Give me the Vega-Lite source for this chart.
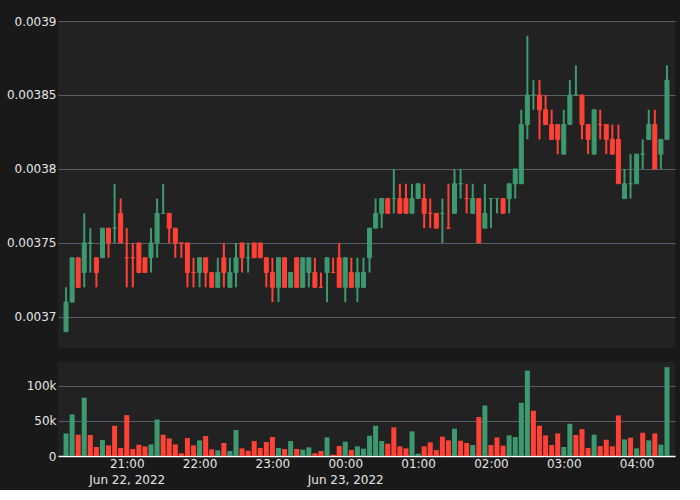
{
  "$schema": "https://vega.github.io/schema/vega-lite/v6.json",
  "background": "#191919",
  "padding": {"left": 6, "top": 15, "right": 5, "bottom": 5},
  "spacing": 14,
  "config": {
    "view": {"stroke": null, "fill": "#222222"},
    "axis": {"labelFont": "DejaVu Sans", "labelFontSize": 12, "labelColor": "#e6e6e6", "gridColor": "#585c63", "domain": false, "ticks": false}
  },
  "datasets": {
    "ohlc": [
      {"t":"2022-06-22T20:10:00","o":0.00369,"h":0.00372,"l":0.00369,"c":0.00371,"v":32200,"d":"up"},
      {"t":"2022-06-22T20:15:00","o":0.00371,"h":0.00374,"l":0.00371,"c":0.00374,"v":59300,"d":"up"},
      {"t":"2022-06-22T20:20:00","o":0.00374,"h":0.00374,"l":0.00372,"c":0.00372,"v":30300,"d":"dn"},
      {"t":"2022-06-22T20:25:00","o":0.00373,"h":0.00377,"l":0.00372,"c":0.00375,"v":83000,"d":"up"},
      {"t":"2022-06-22T20:30:00","o":0.00375,"h":0.00376,"l":0.00373,"c":0.00375,"v":29900,"d":"up"},
      {"t":"2022-06-22T20:35:00","o":0.00374,"h":0.00374,"l":0.00372,"c":0.00373,"v":12800,"d":"dn"},
      {"t":"2022-06-22T20:40:00","o":0.00374,"h":0.00376,"l":0.00374,"c":0.00376,"v":22800,"d":"up"},
      {"t":"2022-06-22T20:45:00","o":0.00376,"h":0.00376,"l":0.00374,"c":0.00375,"v":15200,"d":"dn"},
      {"t":"2022-06-22T20:50:00","o":0.00376,"h":0.00379,"l":0.00375,"c":0.00376,"v":43100,"d":"up"},
      {"t":"2022-06-22T20:55:00","o":0.00377,"h":0.00378,"l":0.00375,"c":0.00375,"v":11400,"d":"dn"},
      {"t":"2022-06-22T21:00:00","o":0.00374,"h":0.00376,"l":0.00372,"c":0.00374,"v":58300,"d":"dn"},
      {"t":"2022-06-22T21:05:00","o":0.00374,"h":0.00375,"l":0.00372,"c":0.00374,"v":10000,"d":"dn"},
      {"t":"2022-06-22T21:10:00","o":0.00375,"h":0.00375,"l":0.00373,"c":0.00373,"v":16100,"d":"dn"},
      {"t":"2022-06-22T21:15:00","o":0.00374,"h":0.00374,"l":0.00373,"c":0.00373,"v":13700,"d":"dn"},
      {"t":"2022-06-22T21:20:00","o":0.00374,"h":0.00376,"l":0.00373,"c":0.00375,"v":16600,"d":"up"},
      {"t":"2022-06-22T21:25:00","o":0.00375,"h":0.00378,"l":0.00374,"c":0.00377,"v":52100,"d":"up"},
      {"t":"2022-06-22T21:30:00","o":0.00377,"h":0.00379,"l":0.00377,"c":0.00377,"v":30300,"d":"up"},
      {"t":"2022-06-22T21:35:00","o":0.00377,"h":0.00377,"l":0.00375,"c":0.00376,"v":25100,"d":"dn"},
      {"t":"2022-06-22T21:40:00","o":0.00376,"h":0.00376,"l":0.00374,"c":0.00375,"v":16600,"d":"dn"},
      {"t":"2022-06-22T21:45:00","o":0.00375,"h":0.00375,"l":0.00374,"c":0.00375,"v":3800,"d":"dn"},
      {"t":"2022-06-22T21:50:00","o":0.00375,"h":0.00375,"l":0.00372,"c":0.00373,"v":25600,"d":"dn"},
      {"t":"2022-06-22T21:55:00","o":0.00373,"h":0.00374,"l":0.00372,"c":0.00373,"v":15200,"d":"dn"},
      {"t":"2022-06-22T22:00:00","o":0.00373,"h":0.00374,"l":0.00372,"c":0.00374,"v":22300,"d":"up"},
      {"t":"2022-06-22T22:05:00","o":0.00374,"h":0.00374,"l":0.00372,"c":0.00373,"v":28400,"d":"dn"},
      {"t":"2022-06-22T22:10:00","o":0.00373,"h":0.00373,"l":0.00372,"c":0.00372,"v":9500,"d":"dn"},
      {"t":"2022-06-22T22:15:00","o":0.00372,"h":0.00374,"l":0.00372,"c":0.00373,"v":8100,"d":"up"},
      {"t":"2022-06-22T22:20:00","o":0.00374,"h":0.00375,"l":0.00372,"c":0.00373,"v":18500,"d":"dn"},
      {"t":"2022-06-22T22:25:00","o":0.00372,"h":0.00374,"l":0.00372,"c":0.00373,"v":7100,"d":"up"},
      {"t":"2022-06-22T22:30:00","o":0.00373,"h":0.00375,"l":0.00372,"c":0.00374,"v":37000,"d":"up"},
      {"t":"2022-06-22T22:35:00","o":0.00375,"h":0.00375,"l":0.00373,"c":0.00374,"v":10900,"d":"dn"},
      {"t":"2022-06-22T22:40:00","o":0.00374,"h":0.00375,"l":0.00373,"c":0.00374,"v":7600,"d":"up"},
      {"t":"2022-06-22T22:45:00","o":0.00375,"h":0.00375,"l":0.00374,"c":0.00374,"v":21300,"d":"dn"},
      {"t":"2022-06-22T22:50:00","o":0.00375,"h":0.00375,"l":0.00374,"c":0.00374,"v":11400,"d":"dn"},
      {"t":"2022-06-22T22:55:00","o":0.00374,"h":0.00374,"l":0.00372,"c":0.00373,"v":19900,"d":"dn"},
      {"t":"2022-06-22T23:00:00","o":0.00373,"h":0.00374,"l":0.00371,"c":0.00372,"v":27000,"d":"dn"},
      {"t":"2022-06-22T23:05:00","o":0.00372,"h":0.00374,"l":0.00371,"c":0.00374,"v":11400,"d":"up"},
      {"t":"2022-06-22T23:10:00","o":0.00374,"h":0.00374,"l":0.00372,"c":0.00372,"v":10000,"d":"dn"},
      {"t":"2022-06-22T23:15:00","o":0.00372,"h":0.00373,"l":0.00372,"c":0.00373,"v":21300,"d":"up"},
      {"t":"2022-06-22T23:20:00","o":0.00374,"h":0.00374,"l":0.00372,"c":0.00372,"v":10000,"d":"dn"},
      {"t":"2022-06-22T23:25:00","o":0.00372,"h":0.00374,"l":0.00372,"c":0.00374,"v":9000,"d":"up"},
      {"t":"2022-06-22T23:30:00","o":0.00373,"h":0.00374,"l":0.00372,"c":0.00374,"v":12300,"d":"up"},
      {"t":"2022-06-22T23:35:00","o":0.00373,"h":0.00374,"l":0.00372,"c":0.00372,"v":3800,"d":"dn"},
      {"t":"2022-06-22T23:40:00","o":0.00372,"h":0.00373,"l":0.00372,"c":0.00372,"v":7100,"d":"dn"},
      {"t":"2022-06-22T23:45:00","o":0.00373,"h":0.00374,"l":0.00371,"c":0.00374,"v":26500,"d":"up"},
      {"t":"2022-06-22T23:50:00","o":0.00373,"h":0.00374,"l":0.00373,"c":0.00373,"v":1900,"d":"dn"},
      {"t":"2022-06-22T23:55:00","o":0.00374,"h":0.00375,"l":0.00372,"c":0.00372,"v":14200,"d":"dn"},
      {"t":"2022-06-23T00:00:00","o":0.00372,"h":0.00374,"l":0.00371,"c":0.00374,"v":20400,"d":"up"},
      {"t":"2022-06-23T00:05:00","o":0.00373,"h":0.00374,"l":0.00372,"c":0.00372,"v":8500,"d":"dn"},
      {"t":"2022-06-23T00:10:00","o":0.00372,"h":0.00374,"l":0.00371,"c":0.00373,"v":13700,"d":"up"},
      {"t":"2022-06-23T00:15:00","o":0.00372,"h":0.00374,"l":0.00372,"c":0.00373,"v":10400,"d":"up"},
      {"t":"2022-06-23T00:20:00","o":0.00374,"h":0.00376,"l":0.00373,"c":0.00376,"v":28900,"d":"up"},
      {"t":"2022-06-23T00:25:00","o":0.00376,"h":0.00378,"l":0.00376,"c":0.00377,"v":43100,"d":"up"},
      {"t":"2022-06-23T00:30:00","o":0.00377,"h":0.00378,"l":0.00376,"c":0.00378,"v":21300,"d":"up"},
      {"t":"2022-06-23T00:35:00","o":0.00378,"h":0.00378,"l":0.00377,"c":0.00377,"v":17500,"d":"dn"},
      {"t":"2022-06-23T00:40:00","o":0.00378,"h":0.00380,"l":0.00377,"c":0.00378,"v":40800,"d":"up"},
      {"t":"2022-06-23T00:45:00","o":0.00378,"h":0.00379,"l":0.00377,"c":0.00377,"v":13700,"d":"dn"},
      {"t":"2022-06-23T00:50:00","o":0.00378,"h":0.00379,"l":0.00377,"c":0.00377,"v":10900,"d":"dn"},
      {"t":"2022-06-23T00:55:00","o":0.00377,"h":0.00379,"l":0.00377,"c":0.00378,"v":35100,"d":"up"},
      {"t":"2022-06-23T01:00:00","o":0.00378,"h":0.00379,"l":0.00378,"c":0.00379,"v":3300,"d":"up"},
      {"t":"2022-06-23T01:05:00","o":0.00378,"h":0.00379,"l":0.00376,"c":0.00377,"v":13700,"d":"dn"},
      {"t":"2022-06-23T01:10:00","o":0.00377,"h":0.00378,"l":0.00376,"c":0.00377,"v":19400,"d":"dn"},
      {"t":"2022-06-23T01:15:00","o":0.00377,"h":0.00377,"l":0.00376,"c":0.00376,"v":8500,"d":"dn"},
      {"t":"2022-06-23T01:20:00","o":0.00377,"h":0.00378,"l":0.00375,"c":0.00377,"v":27500,"d":"up"},
      {"t":"2022-06-23T01:25:00","o":0.00376,"h":0.00379,"l":0.00376,"c":0.00376,"v":22300,"d":"dn"},
      {"t":"2022-06-23T01:30:00","o":0.00377,"h":0.00380,"l":0.00377,"c":0.00379,"v":38900,"d":"up"},
      {"t":"2022-06-23T01:35:00","o":0.00379,"h":0.00380,"l":0.00378,"c":0.00379,"v":21800,"d":"up"},
      {"t":"2022-06-23T01:40:00","o":0.00378,"h":0.00379,"l":0.00377,"c":0.00378,"v":18500,"d":"dn"},
      {"t":"2022-06-23T01:45:00","o":0.00377,"h":0.00379,"l":0.00377,"c":0.00378,"v":15600,"d":"up"},
      {"t":"2022-06-23T01:50:00","o":0.00378,"h":0.00378,"l":0.00375,"c":0.00375,"v":55500,"d":"dn"},
      {"t":"2022-06-23T01:55:00","o":0.00376,"h":0.00379,"l":0.00376,"c":0.00377,"v":72000,"d":"up"},
      {"t":"2022-06-23T02:00:00","o":0.00378,"h":0.00378,"l":0.00376,"c":0.00378,"v":15600,"d":"up"},
      {"t":"2022-06-23T02:05:00","o":0.00378,"h":0.00378,"l":0.00377,"c":0.00378,"v":26500,"d":"up"},
      {"t":"2022-06-23T02:10:00","o":0.00378,"h":0.00378,"l":0.00377,"c":0.00377,"v":14700,"d":"dn"},
      {"t":"2022-06-23T02:15:00","o":0.00378,"h":0.00379,"l":0.00377,"c":0.00379,"v":29400,"d":"up"},
      {"t":"2022-06-23T02:20:00","o":0.00379,"h":0.00380,"l":0.00378,"c":0.00380,"v":27000,"d":"up"},
      {"t":"2022-06-23T02:25:00","o":0.00379,"h":0.00384,"l":0.00379,"c":0.00383,"v":75800,"d":"up"},
      {"t":"2022-06-23T02:30:00","o":0.00383,"h":0.00389,"l":0.00382,"c":0.00385,"v":121800,"d":"up"},
      {"t":"2022-06-23T02:35:00","o":0.00385,"h":0.00386,"l":0.00384,"c":0.00385,"v":64500,"d":"up"},
      {"t":"2022-06-23T02:40:00","o":0.00385,"h":0.00386,"l":0.00382,"c":0.00384,"v":43100,"d":"dn"},
      {"t":"2022-06-23T02:45:00","o":0.00384,"h":0.00385,"l":0.00383,"c":0.00383,"v":29400,"d":"dn"},
      {"t":"2022-06-23T02:50:00","o":0.00383,"h":0.00384,"l":0.00382,"c":0.00382,"v":15600,"d":"dn"},
      {"t":"2022-06-23T02:55:00","o":0.00383,"h":0.00383,"l":0.00381,"c":0.00382,"v":32200,"d":"dn"},
      {"t":"2022-06-23T03:00:00","o":0.00381,"h":0.00384,"l":0.00381,"c":0.00383,"v":12800,"d":"up"},
      {"t":"2022-06-23T03:05:00","o":0.00383,"h":0.00386,"l":0.00383,"c":0.00385,"v":46000,"d":"up"},
      {"t":"2022-06-23T03:10:00","o":0.00385,"h":0.00387,"l":0.00385,"c":0.00385,"v":29900,"d":"up"},
      {"t":"2022-06-23T03:15:00","o":0.00385,"h":0.00385,"l":0.00382,"c":0.00383,"v":38400,"d":"dn"},
      {"t":"2022-06-23T03:20:00","o":0.00383,"h":0.00383,"l":0.00381,"c":0.00382,"v":11400,"d":"dn"},
      {"t":"2022-06-23T03:25:00","o":0.00381,"h":0.00384,"l":0.00381,"c":0.00384,"v":30300,"d":"up"},
      {"t":"2022-06-23T03:30:00","o":0.00383,"h":0.00384,"l":0.00382,"c":0.00383,"v":14200,"d":"dn"},
      {"t":"2022-06-23T03:35:00","o":0.00383,"h":0.00383,"l":0.00381,"c":0.00382,"v":23200,"d":"dn"},
      {"t":"2022-06-23T03:40:00","o":0.00382,"h":0.00383,"l":0.00381,"c":0.00381,"v":13700,"d":"dn"},
      {"t":"2022-06-23T03:45:00","o":0.00382,"h":0.00383,"l":0.00379,"c":0.00379,"v":57800,"d":"dn"},
      {"t":"2022-06-23T03:50:00","o":0.00378,"h":0.00380,"l":0.00378,"c":0.00379,"v":23700,"d":"up"},
      {"t":"2022-06-23T03:55:00","o":0.00379,"h":0.00381,"l":0.00378,"c":0.00379,"v":26100,"d":"up"},
      {"t":"2022-06-23T04:00:00","o":0.00379,"h":0.00381,"l":0.00379,"c":0.00381,"v":10900,"d":"up"},
      {"t":"2022-06-23T04:05:00","o":0.00381,"h":0.00382,"l":0.00380,"c":0.00381,"v":33200,"d":"up"},
      {"t":"2022-06-23T04:10:00","o":0.00382,"h":0.00384,"l":0.00382,"c":0.00383,"v":22300,"d":"up"},
      {"t":"2022-06-23T04:15:00","o":0.00383,"h":0.00384,"l":0.00380,"c":0.00380,"v":32200,"d":"dn"},
      {"t":"2022-06-23T04:20:00","o":0.00381,"h":0.00382,"l":0.00380,"c":0.00382,"v":16100,"d":"up"},
      {"t":"2022-06-23T04:25:00","o":0.00382,"h":0.00387,"l":0.00382,"c":0.00386,"v":126600,"d":"up"}
    ]
  },
  "vconcat": [
    {
      "width": 617,
      "height": 327,
      "data": {"name": "ohlc"},
      "encoding": {
        "x": {"field": "t", "type": "temporal", "axis": null,
              "scale": {"domain": [{"year": 2022, "month": 6, "date": 22, "hours": 20, "minutes": 7, "seconds": 30}, {"year": 2022, "month": 6, "date": 23, "hours": 4, "minutes": 27, "seconds": 30}]}},
        "color": {"field": "d", "type": "nominal", "legend": null,
                  "scale": {"domain": ["up", "dn"], "range": ["#3D9970", "#FF4136"]}}
      },
      "layer": [
        {
          "mark": {"type": "rule", "strokeWidth": 2},
          "encoding": {
            "y": {"field": "l", "type": "quantitative",
                  "scale": {"domain": [0.003679, 0.0039], "nice": false, "zero": false},
                  "axis": {"values": [0.0037, 0.00375, 0.0038, 0.00385, 0.0039], "format": ".5~f", "grid": true, "title": null}},
            "y2": {"field": "h"}
          }
        },
        {
          "mark": {"type": "bar", "width": 4, "strokeWidth": 1},
          "encoding": {
            "y": {"field": "o", "type": "quantitative"},
            "y2": {"field": "c"},
            "stroke": {"condition": {"test": "datum.d == 'up'", "value": "#3D9970"}, "value": "#FF4136"}
          }
        }
      ]
    },
    {
      "width": 617,
      "height": 94,
      "data": {"name": "ohlc"},
      "mark": {"type": "bar", "width": 5},
      "encoding": {
        "x": {"field": "t", "type": "temporal",
              "scale": {"domain": [{"year": 2022, "month": 6, "date": 22, "hours": 20, "minutes": 7, "seconds": 30}, {"year": 2022, "month": 6, "date": 23, "hours": 4, "minutes": 27, "seconds": 30}]},
              "axis": {"format": "%H:%M", "tickCount": 9, "grid": false, "domain": true, "domainColor": "#ffffff", "domainWidth": 1.5, "title": null, "labelLineHeight": 16,
                       "labelExpr": "(datum.index == 0 || hours(datum.value) == 0) ? [datum.label, timeFormat(datum.value, '%b %d, %Y')] : datum.label"}},
        "y": {"field": "v", "type": "quantitative",
              "scale": {"domain": [0, 134000], "nice": false},
              "axis": {"values": [0, 50000, 100000], "format": "~s", "grid": true, "title": null,
                       "labelExpr": "datum.value == 0 ? '0' : datum.label"}},
        "color": {"condition": {"test": "datum.c > datum.o", "value": "#3D9970"}, "value": "#FF4136"}
      }
    }
  ]
}
